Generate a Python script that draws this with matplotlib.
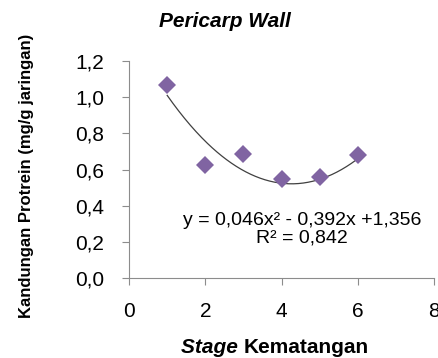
import matplotlib.pyplot as plt
import numpy as np

# protein content per ripening stage
stage = [1, 2, 3, 4, 5, 6]
protein = [1.07, 0.625, 0.685, 0.548, 0.558, 0.68]
# quadratic fit coefficients (a, b, c)
coef = [0.046, -0.392, 1.356]
r2 = 0.842

plt.rcParams['font.family'] = ['Liberation Sans', 'DejaVu Sans']

fig = plt.figure(figsize=(4.39, 3.58), dpi=100)
ax = fig.add_axes([0.294, 0.2235, 0.695, 0.606])

xs = np.linspace(min(stage), max(stage), 200)
ax.plot(xs, np.polyval(coef, xs), color='#404040', lw=0.9, zorder=2)
ax.plot(stage, protein, 'D', color='#8064A2', markersize=9, markeredgewidth=0, zorder=3)

ax.set_xlim(0, 8)
ax.set_ylim(0, 1.2)
ax.set_xticks([0, 2, 4, 6, 8])
ax.set_yticks(np.arange(0, 1.21, 0.2))
ax.set_yticklabels([f"{v:.1f}".replace('.', ',') for v in np.arange(0, 1.21, 0.2)])
for s in ['top', 'right']:
    ax.spines[s].set_visible(False)
for s in ['left', 'bottom']:
    ax.spines[s].set_color('#8c8c8c')
ax.tick_params(colors='#8c8c8c', labelcolor='black', labelsize=15, length=5, width=0.8)
ax.tick_params(axis='x', pad=12)
ax.tick_params(axis='y', pad=13)

eq = "y = 0,046x² - 0,392x +1,356"
ax.text(0.567, 0.267, eq, transform=ax.transAxes, ha='center', va='center', fontsize=14)
ax.text(0.567, 0.184, f"R² = {r2:.3f}".replace('.', ','), transform=ax.transAxes,
        ha='center', va='center', fontsize=14)

fig.text(0.512, 0.939, "Pericarp Wall", ha='center', va='center', fontsize=15,
         fontweight='bold', fontstyle='italic')
fig.text(0.06, 0.51, "Kandungan Protrein (mg/g jaringan)", rotation=90, ha='center', va='center',
         fontsize=12, fontweight='bold', family=['Liberation Sans Narrow', 'Liberation Sans'])
fig.text(0.556, 0.028, "Stage ", ha='right', va='center', fontsize=15,
         fontweight='bold', fontstyle='italic')
fig.text(0.556, 0.028, "Kematangan", ha='left', va='center', fontsize=15, fontweight='bold')

fig.savefig('out.png', dpi=100)
